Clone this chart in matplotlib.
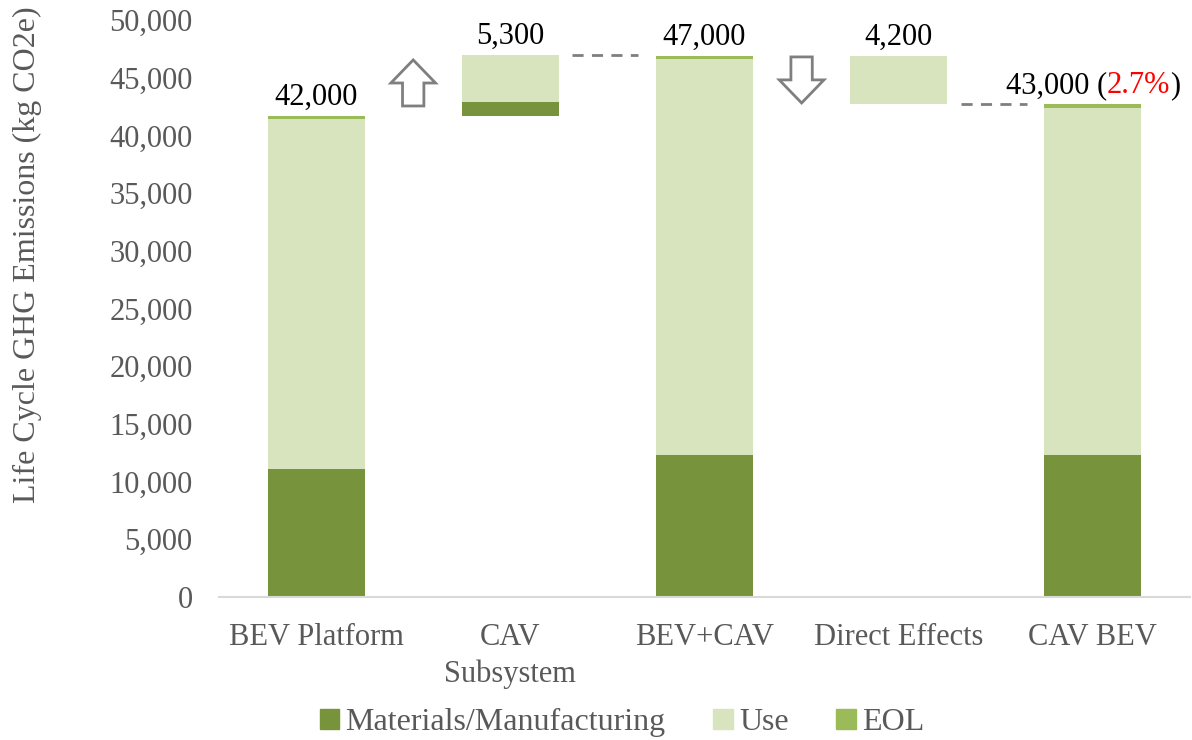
import matplotlib
matplotlib.use("Agg")
import matplotlib.pyplot as plt
from matplotlib.patches import Patch, FancyArrow
from matplotlib.offsetbox import TextArea, HPacker, AnnotationBbox

# chart data (kg CO2e)
categories = ['BEV Platform', 'CAV\nSubsystem', 'BEV+CAV', 'Direct Effects', 'CAV BEV']
base = [0, 41700, 0, 42700, 0]            # invisible offset for the floating bars
materials = [11100, 1200, 12300, 0, 12300]
use = [30300, 4100, 34300, 4200, 30100]
eol = [300, 0, 300, 0, 300]
total_labels = ['42,000', '5,300', '47,000', '4,200', '43,000']
change_label = '2.7%'

c_mat = '#77933C'
c_use = '#D7E4BD'
c_eol = '#9BBB59'
grey = '#595959'

plt.rcParams['font.family'] = ['Liberation Serif', 'DejaVu Serif']
fs = 22

fig = plt.figure(figsize=(11.92, 7.4), dpi=100)
ax = fig.add_axes([219/1192, 1 - 597/740, (1190-219)/1192, (597-20)/740])

x = list(range(len(categories)))
w = 0.5
b1 = [base[i] + materials[i] for i in x]
b2 = [b1[i] + use[i] for i in x]
tops = [b2[i] + eol[i] for i in x]

ax.bar(x, materials, w, bottom=base, color=c_mat, label='Materials/Manufacturing')
ax.bar(x, use, w, bottom=b1, color=c_use, label='Use')
ax.bar(x, eol, w, bottom=b2, color=c_eol, label='EOL')

# value labels
for i in x:
    if i == 4:
        continue
    ax.annotate(total_labels[i], (i, tops[i]), xytext=(0, 3), textcoords='offset points',
                ha='center', va='bottom', fontsize=fs, color='black')

parts = [TextArea(total_labels[4] + ' (', textprops=dict(fontsize=fs, color='black')),
         TextArea(change_label, textprops=dict(fontsize=fs, color='red')),
         TextArea(')', textprops=dict(fontsize=fs, color='black'))]
box = HPacker(children=parts, align='baseline', pad=0, sep=0)
ab = AnnotationBbox(box, (4, tops[4]), xybox=(0, 3), xycoords='data',
                    boxcoords='offset points', box_alignment=(0.5, 0), frameon=False)
ax.add_artist(ab)

# dashed connectors
ax.plot([1 + w/2 + 0.07, 2 - w/2 - 0.09], [tops[1], tops[1]], ls=(0, (4, 3)),
        color='#7F7F7F', lw=2)
ax.plot([3 + w/2 + 0.07, 4 - w/2 - 0.09], [base[3], base[3]], ls=(0, (4, 3)),
        color='#7F7F7F', lw=2)

# hollow arrows
ax.add_patch(FancyArrow(0.5, 42550, 0, 3990, width=0.11, head_width=0.23,
                        head_length=2000, length_includes_head=True,
                        facecolor='white', edgecolor='#7F7F7F', lw=2))
ax.add_patch(FancyArrow(2.5, 46800, 0, -3990, width=0.11, head_width=0.23,
                        head_length=2000, length_includes_head=True,
                        facecolor='white', edgecolor='#7F7F7F', lw=2))

ax.set_xlim(-0.5, 4.5)
ax.set_ylim(0, 50000)
ax.set_yticks(range(0, 50001, 5000))
ax.set_yticklabels([f'{v:,}' for v in range(0, 50001, 5000)])
ax.set_xticks(x)
ax.set_xticklabels(categories, linespacing=1.3)
ax.tick_params(axis='y', length=0, pad=19, labelsize=fs, labelcolor=grey)
ax.tick_params(axis='x', length=0, pad=19, labelsize=fs, labelcolor=grey)
for s in ['top', 'right', 'left']:
    ax.spines[s].set_visible(False)
ax.spines['bottom'].set_color('#D9D9D9')
ax.spines['bottom'].set_linewidth(1.5)

fig.text(27/1192, 1 - 255/740, 'Life Cycle GHG Emissions (kg CO2e)', rotation=90,
         ha='center', va='center', fontsize=23, color=grey)

handles = [Patch(color=c_mat), Patch(color=c_use), Patch(color=c_eol)]
fig.legend(handles, ['Materials/Manufacturing', 'Use', 'EOL'], loc='lower center',
           bbox_to_anchor=(622/1192, -0.035), ncol=3, frameon=False, fontsize=23,
           labelcolor=grey, handlelength=0.6, handleheight=0.6, handletextpad=0.2,
           columnspacing=1.5)

fig.savefig('out.png', dpi=100)
